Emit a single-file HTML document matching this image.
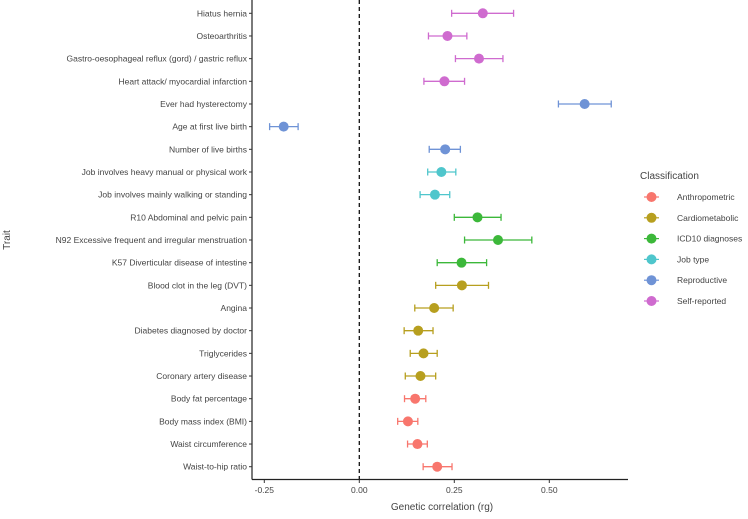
<!DOCTYPE html>
<html><head><meta charset="utf-8"><style>
body{margin:0;background:#fff;font-family:"Liberation Sans",sans-serif}
svg text{font-family:"Liberation Sans",sans-serif;fill:#444}
</style></head><body>
<svg id="c" width="748" height="514"></svg>
<script>
const traits=["Hiatus hernia","Osteoarthritis","Gastro-oesophageal reflux (gord) / gastric reflux","Heart attack/ myocardial infarction","Ever had hysterectomy","Age at first live birth","Number of live births","Job involves heavy manual or physical work","Job involves mainly walking or standing","R10 Abdominal and pelvic pain","N92 Excessive frequent and irregular menstruation","K57 Diverticular disease of intestine","Blood clot in the leg (DVT)","Angina","Diabetes diagnosed by doctor","Triglycerides","Coronary artery disease","Body fat percentage","Body mass index (BMI)","Waist circumference","Waist-to-hip ratio"];
</script>
<script>
const rg=[0.325,0.232,0.315,0.224,0.593,-0.199,0.226,0.216,0.199,0.311,0.365,0.269,0.270,0.197,0.155,0.169,0.161,0.147,0.128,0.153,0.205];
const lo=[0.243,0.182,0.253,0.170,0.524,-0.236,0.184,0.180,0.160,0.250,0.277,0.205,0.201,0.146,0.118,0.134,0.121,0.119,0.101,0.127,0.168];
const hi=[0.406,0.283,0.378,0.277,0.663,-0.161,0.266,0.254,0.238,0.373,0.454,0.335,0.340,0.247,0.194,0.205,0.201,0.175,0.154,0.179,0.244];
const cls=[5,5,5,5,4,4,4,3,3,2,2,2,1,1,1,1,1,0,0,0,0];
const classes=["Anthropometric","Cardiometabolic","ICD10 diagnoses","Job type","Reproductive","Self-reported"];
const ticks=[-0.25,0,0.25,0.5];
const tickLabels=["-0.25","0.00","0.25","0.50"];
const colors=["#F8766D","#B79F1F","#3CB83A","#4FC6CC","#6F93D6","#CF6BCF"];
const NS="http://www.w3.org/2000/svg";
const svg=document.getElementById('c');
const x=v=>359.3+v*380;
const y=i=>13.3+i*(466.7-13.3)/(traits.length-1);
function mk(t,a,p){const e=document.createElementNS(NS,t);for(const k in a)e.setAttribute(k,a[k]);(p||svg).appendChild(e);return e;}
// axes
let ax=mk('line',{x1:252,y1:0,x2:252,y2:479.5,stroke:'#222','stroke-width':1.2});


let bx=mk('line',{x1:252,y1:479.5,x2:628,y2:479.5,stroke:'#222','stroke-width':1.2});


let zl=mk('line',{x1:x(0),y1:0,x2:x(0),y2:479,stroke:'#111','stroke-width':1.3,'stroke-dasharray':'4,3'});


ticks.forEach((t,i)=>{
  mk('line',{x1:x(t),y1:480,x2:x(t),y2:483,stroke:'#333'});
  const tl=mk('text',{x:x(t),y:493,'font-size':8.5,'text-anchor':'middle'});tl.textContent=tickLabels[i];
  
  
});
traits.forEach((tr,i)=>{
  mk('line',{x1:249,y1:y(i),x2:252,y2:y(i),stroke:'#333'});
  const t=mk('text',{x:247,y:y(i)+3,'font-size':8.5,'text-anchor':'end'});t.textContent=tr;
  
  
  const c=colors[cls[i]];
  const g=mk('g',{});
  
  
  mk('line',{x1:x(lo[i]),y1:y(i),x2:x(hi[i]),y2:y(i),stroke:c,'stroke-width':1.3},g);
  mk('line',{x1:x(lo[i]),y1:y(i)-3.5,x2:x(lo[i]),y2:y(i)+3.5,stroke:c,'stroke-width':1.3},g);
  mk('line',{x1:x(hi[i]),y1:y(i)-3.5,x2:x(hi[i]),y2:y(i)+3.5,stroke:c,'stroke-width':1.3},g);
  mk('circle',{cx:x(rg[i]),cy:y(i),r:5,fill:c},g);
});
let xt=mk('text',{x:442,y:510,'font-size':10,'text-anchor':'middle'});xt.textContent="Genetic correlation (rg)";


let yt=mk('text',{x:0,y:0,'font-size':10,'text-anchor':'middle',transform:'translate(10,240) rotate(-90)'});yt.textContent="Trait";


let lt=mk('text',{x:640,y:179,'font-size':10});lt.textContent="Classification";


classes.forEach((cn,i)=>{
  const ly=197+i*20.8;
  const g=mk('g',{});
  
  
  mk('line',{x1:644,y1:ly,x2:659,y2:ly,stroke:colors[i],'stroke-width':1.2},g);
  mk('circle',{cx:651.5,cy:ly,r:5,fill:colors[i]},g);
  const t=mk('text',{x:677,y:ly+3,'font-size':8.5},g);t.textContent=cn;
});
</script>
</body></html>
